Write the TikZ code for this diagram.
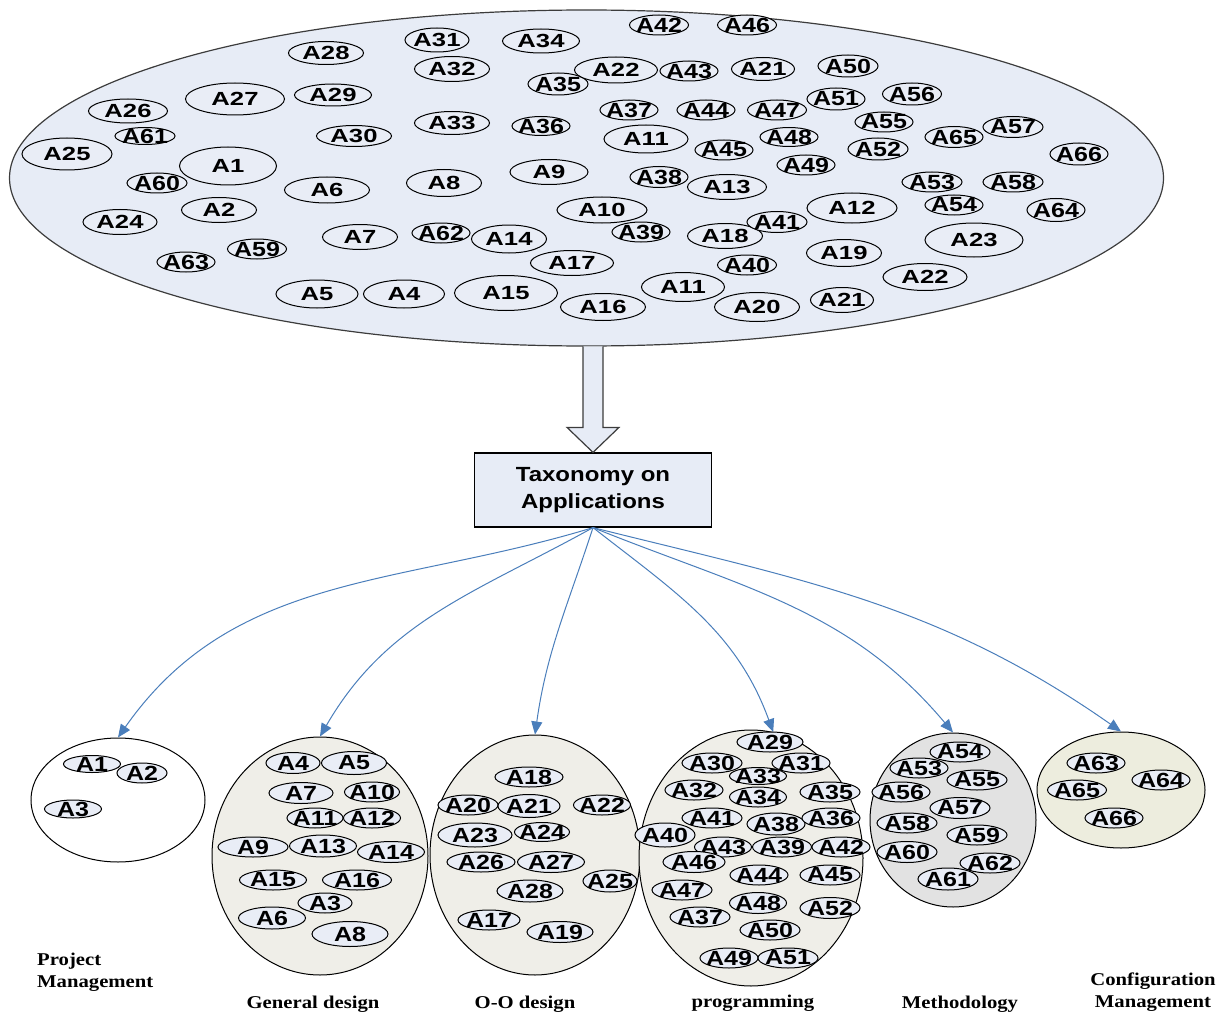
\documentclass[tikz,border=0pt]{standalone}
\usepackage{fontspec}
\setmainfont{Liberation Serif}
\newfontfamily\pillfont[FakeStretch=1.35]{Liberation Sans}
\newfontfamily\pillfontb[FakeStretch=1.22]{Liberation Sans}
\newfontfamily\boxfont[FakeStretch=1.17]{Liberation Sans}
\newfontfamily\capfont[FakeStretch=1.15]{Liberation Serif}
\usetikzlibrary{shapes.geometric,arrows.meta,calc}

\definecolor{poolfill}{RGB}{231,236,246}
\definecolor{pillfill}{RGB}{233,237,246}
\definecolor{beige}{RGB}{239,238,232}
\definecolor{methfill}{RGB}{226,226,226}
\definecolor{cmfill}{RGB}{237,237,222}
\definecolor{linkblue}{RGB}{74,126,187}
\definecolor{edgegray}{RGB}{60,60,60}

\tikzset{
  pill/.style={ellipse, draw=black, line width=1pt, fill=pillfill, inner sep=0pt, outer sep=0pt},
  psmall/.style={font=\pillfont\bfseries\fontsize{19pt}{19pt}\selectfont, inner sep=0pt},
  pbig/.style={font=\pillfontb\bfseries\fontsize{20.5pt}{20.5pt}\selectfont, inner sep=0pt},
  cluster/.style={ellipse, draw=black, line width=1pt, inner sep=0pt},
  link/.style={draw=linkblue, line width=1pt, -{Triangle[length=13pt,width=11pt]}},
  caption/.style={font=\capfont\bfseries\fontsize{18pt}{22pt}\selectfont, inner sep=0pt},
}

% \pl[font style]{x}{y}{text}{width}{height}{name}
\newcommand{\pl}[7][pbig]{%
  \node[pill, minimum width=#5pt, minimum height=#6pt,
        label={[#1]center:#4}] (#7) at (#2,-#3) {};}

\begin{document}
\begin{tikzpicture}[x=1pt,y=1pt]
\useasboundingbox (0,0) rectangle (1227,-1014);

% ---------- pool of applications ----------
\node[ellipse, draw=edgegray, line width=1.2pt, fill=poolfill,
      minimum width=1154pt, minimum height=336pt, inner sep=0pt] (pool) at (586.5,-178) {};

\pl[psmall]{326}{53}{A28}{75}{23}{t28}
\pl[psmall]{235}{99}{A27}{99}{32}{t27}
\pl[psmall]{333}{95}{A29}{77}{22}{t29}
\pl[psmall]{128}{111}{A26}{79}{24}{t26}
\pl{145}{136}{A61}{60}{17}{t61}
\pl[psmall]{354}{136}{A30}{75}{21}{t30}
\pl[psmall]{67}{154}{A25}{90}{32}{t25}
\pl[psmall]{228}{166}{A1}{97}{38}{t1}
\pl{157}{183}{A60}{60}{20}{t60}
\pl[psmall]{327}{190}{A6}{85}{26}{t6}
\pl[psmall]{219}{210}{A2}{75}{25}{t2}
\pl[psmall]{120}{222}{A24}{74}{25}{t24}
\pl[psmall]{360}{237}{A7}{75}{25}{t7}
\pl{186}{262}{A63}{58}{20}{t63}
\pl{257}{249}{A59}{59}{20}{t59}
\pl[psmall]{317}{294}{A5}{82}{28}{t5}
\pl[psmall]{404}{294}{A4}{81}{28}{t4}
\pl[psmall]{437}{40}{A31}{64}{24}{t31}
\pl[psmall]{541}{41}{A34}{77}{24}{t34}
\pl{659}{25}{A42}{59}{20}{t42}
\pl{747}{25}{A46}{59}{20}{t46}
\pl[psmall]{452}{69}{A32}{75}{25}{t32}
\pl{558}{84}{A35}{60}{22}{t35}
\pl[psmall]{616}{70}{A22}{83}{26}{t22a}
\pl{689}{71}{A43}{58}{20}{t43}
\pl[psmall]{763}{69}{A21}{63}{23}{t21a}
\pl{629}{110}{A37}{58}{20}{t37}
\pl{706}{110}{A44}{58}{20}{t44}
\pl{777}{110}{A47}{59}{20}{t47}
\pl[psmall]{452}{123}{A33}{75}{23}{t33}
\pl{541}{126}{A36}{58}{19}{t36}
\pl[psmall]{646}{139}{A11}{84}{28}{t11a}
\pl{724}{150}{A45}{58}{20}{t45}
\pl{789}{137}{A48}{58}{19}{t48}
\pl{806}{165}{A49}{58}{20}{t49}
\pl[psmall]{444}{183}{A8}{75}{27}{t8}
\pl[psmall]{549}{172}{A9}{78}{25}{t9}
\pl{659}{177}{A38}{58}{21}{t38}
\pl[psmall]{727}{187}{A13}{79}{25}{t13}
\pl[psmall]{602}{210}{A10}{90}{26}{t10}
\pl{441}{233}{A62}{58}{20}{t62}
\pl[psmall]{509}{239}{A14}{75}{28}{t14}
\pl{641}{232}{A39}{58}{20}{t39}
\pl[psmall]{725}{236}{A18}{75}{25}{t18}
\pl{777}{222}{A41}{60}{21}{t41}
\pl[psmall]{572}{263}{A17}{83}{25}{t17}
\pl{747}{265}{A40}{59}{20}{t40}
\pl[psmall]{506}{293}{A15}{103}{35}{t15}
\pl[psmall]{603}{307}{A16}{85}{27}{t16}
\pl[psmall]{683}{287}{A11}{83}{29}{t11b}
\pl[psmall]{757}{307}{A20}{85}{29}{t20}
\pl{848}{66}{A50}{60}{22}{t50}
\pl{836}{99}{A51}{58}{22}{t51}
\pl{912}{94}{A56}{59}{22}{t56}
\pl{884}{122}{A55}{58}{20}{t55}
\pl{878}{149}{A52}{60}{22}{t52}
\pl{954}{137}{A65}{58}{21}{t65}
\pl{1013}{127}{A57}{60}{21}{t57}
\pl{1079}{154}{A66}{58}{22}{t66}
\pl{932}{182}{A53}{60}{20}{t53}
\pl{1013}{182}{A58}{60}{20}{t58}
\pl{954}{205}{A54}{58}{20}{t54}
\pl{1056}{210}{A64}{58}{23}{t64}
\pl[psmall]{852}{208}{A12}{90}{30}{t12}
\pl[psmall]{974}{240}{A23}{98}{34}{t23}
\pl[psmall]{844}{253}{A19}{75}{27}{t19}
\pl[psmall]{925}{277}{A22}{84}{27}{t22b}
\pl[psmall]{842}{300}{A21}{63}{25}{t21b}

% ---------- taxonomy box and block arrow ----------
\node[draw=black, line width=1.2pt, fill=poolfill, minimum width=237pt, minimum height=74pt,
      align=center, font=\boxfont\bfseries\fontsize{20.5pt}{27pt}\selectfont] (tax) at (593,-490)
      {Taxonomy on\\Applications};
\draw[draw=edgegray, line width=1.2pt, fill=poolfill, line join=miter]
  ($(tax.north)+(-10,106)$) -- ($(tax.north)+(-10,25)$) -- ($(tax.north)+(-26,25)$)
  -- (tax.north) -- ($(tax.north)+(26,25)$) -- ($(tax.north)+(10,25)$)
  -- ($(tax.north)+(10,106)$);

% ---------- category clusters ----------
\node[cluster, fill=white, minimum width=174pt, minimum height=124pt] (pm) at (118,-800) {};
\node[cluster, fill=beige, minimum width=216pt, minimum height=238pt] (gd) at (320,-856) {};
\node[cluster, fill=beige, minimum width=210pt, minimum height=240pt] (oo) at (535,-855) {};
\node[cluster, fill=beige, minimum width=224pt, minimum height=256pt] (prog) at (751,-858) {};
\node[cluster, fill=methfill, minimum width=166pt, minimum height=174pt] (meth) at (953,-820) {};
\node[cluster, fill=cmfill, minimum width=168pt, minimum height=116pt] (cm) at (1121,-790) {};

% ---------- links from the taxonomy ----------
\draw[link] (tax.south) to[out=197, in=55] (pm.north);
\draw[link] (tax.south) to[out=209, in=60] (gd.north);
\draw[link] (tax.south) to[out=252, in=82] (oo.north);
\draw[link] (tax.south) to[out=322, in=110] (prog.80);
\draw[link] (tax.south) to[out=338, in=130] (meth.north);
\draw[link] (tax.south) to[out=346, in=145] (cm.north);

% Project management
\pl{92}{764}{A1}{57}{17}{pm1}
\pl{142}{773}{A2}{50}{20}{pm2}
\pl{73}{809}{A3}{57}{18}{pm3}

% General design
\pl{293}{763}{A4}{54}{21}{gd4}
\pl{354}{763}{A5}{65}{23}{gd5}
\pl{301}{793}{A7}{64}{21}{gd7}
\pl{372}{792}{A10}{55}{20}{gd10}
\pl{315}{818}{A11}{56}{20}{gd11}
\pl{372}{818}{A12}{57}{20}{gd12}
\pl{253}{847}{A9}{70}{20}{gd9}
\pl{323}{846}{A13}{67}{22}{gd13}
\pl{391}{852}{A14}{67}{21}{gd14}
\pl{273}{880}{A15}{67}{20}{gd15}
\pl{357}{880}{A16}{69}{20}{gd16}
\pl{325}{903}{A3}{54}{20}{gd3}
\pl{272}{918}{A6}{67}{22}{gd6}
\pl{350}{934}{A8}{76}{25}{gd8}

% O-O design
\pl{529}{777}{A18}{68}{20}{oo18}
\pl{468}{805}{A20}{60}{20}{oo20}
\pl{529}{806}{A21}{62}{23}{oo21}
\pl{602}{805}{A22}{57}{20}{oo22}
\pl{475}{835}{A23}{74}{24}{oo23}
\pl{542}{832}{A24}{55}{19}{oo24}
\pl{481}{862}{A26}{68}{20}{oo26}
\pl{551}{862}{A27}{67}{21}{oo27}
\pl{610}{881}{A25}{54}{22}{oo25}
\pl{530}{891}{A28}{66}{22}{oo28}
\pl{489}{920}{A17}{62}{20}{oo17}
\pl{560}{932}{A19}{66}{21}{oo19}

% programming
\pl{770}{742}{A29}{66}{20}{pg29}
\pl{712}{763}{A30}{60}{20}{pg30}
\pl{801}{763}{A31}{58}{20}{pg31}
\pl{758}{776}{A33}{57}{17}{pg33}
\pl{694}{790}{A32}{58}{20}{pg32}
\pl{758}{797}{A34}{57}{20}{pg34}
\pl{830}{792}{A35}{60}{20}{pg35}
\pl{712}{818}{A41}{60}{20}{pg41}
\pl{776}{824}{A38}{58}{22}{pg38}
\pl{831}{818}{A36}{58}{20}{pg36}
\pl{665}{835}{A40}{60}{24}{pg40}
\pl{723}{847}{A43}{57}{20}{pg43}
\pl{782}{847}{A39}{59}{20}{pg39}
\pl{841}{847}{A42}{58}{20}{pg42}
\pl{694}{862}{A46}{62}{21}{pg46}
\pl{759}{875}{A44}{58}{20}{pg44}
\pl{830}{875}{A45}{60}{20}{pg45}
\pl{682}{890}{A47}{60}{20}{pg47}
\pl{758}{903}{A48}{57}{21}{pg48}
\pl{830}{908}{A52}{60}{21}{pg52}
\pl{700}{917}{A37}{60}{20}{pg37}
\pl{770}{930}{A50}{60}{20}{pg50}
\pl{729}{958}{A49}{58}{20}{pg49}
\pl{788}{958}{A51}{60}{20}{pg51}

% Methodology
\pl{919}{768}{A53}{58}{20}{me53}
\pl{960}{752}{A54}{60}{20}{me54}
\pl{977}{780}{A55}{60}{20}{me55}
\pl{901}{792}{A56}{58}{20}{me56}
\pl{960}{808}{A57}{60}{21}{me57}
\pl{907}{823}{A58}{60}{20}{me58}
\pl{977}{835}{A59}{60}{20}{me59}
\pl{907}{852}{A60}{60}{21}{me60}
\pl{948}{879}{A61}{60}{22}{me61}
\pl{990}{863}{A62}{60}{20}{me62}

% Configuration management
\pl{1096}{763}{A63}{58}{20}{cm63}
\pl{1161}{780}{A64}{58}{20}{cm64}
\pl{1077}{790}{A65}{59}{20}{cm65}
\pl{1114}{818}{A66}{58}{20}{cm66}

% ---------- category names ----------
\node[caption, align=left, anchor=north west] (cappm) at (37,-953) {Project\\Management};
\node[caption, anchor=base] (capgd) at (313,-1008) {General design};
\node[caption, anchor=base] (capoo) at (525,-1008) {O-O design};
\node[caption, anchor=base] (capprog) at (753,-1007) {programming};
\node[caption, anchor=base] (capmeth) at (960,-1008) {Methodology};
\node[caption, align=center, anchor=north] (capcm) at (1153,-973) {Configuration\\Management};
\end{tikzpicture}
\end{document}
